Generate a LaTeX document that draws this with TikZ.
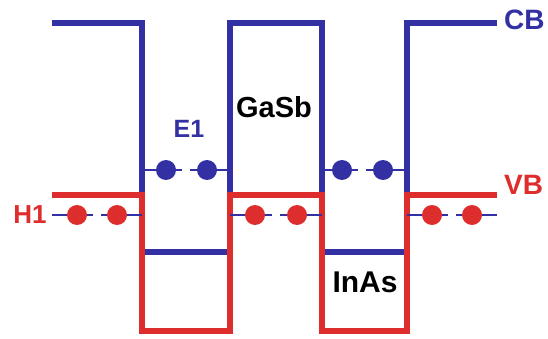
\documentclass[tikz,border=0pt]{standalone}
\usepackage{fontspec}
\setmainfont{Liberation Sans}
\definecolor{cbblue}{RGB}{50,48,162}
\definecolor{vbred}{RGB}{222,45,45}
\begin{document}
\begin{tikzpicture}[x=1pt,y=-1pt,
  band/.style={line width=6.5pt},
  lvl/.style={line width=1.6pt,cbblue},
  edot/.style={circle,fill=cbblue,minimum size=20pt,inner sep=0pt},
  hdot/.style={circle,fill=vbred,minimum size=20pt,inner sep=0pt},
  lab/.style={inner sep=0pt}]
\useasboundingbox (0,0) rectangle (548,339);
% conduction band
\draw[band,cbblue] (52,23) -- (142,23) -- (142,195);
\draw[band,cbblue] (230,195) -- (230,23) -- (322,23) -- (322,195);
\draw[band,cbblue] (407,195) -- (407,23) -- (497,23);
\draw[band,cbblue] (142,252) -- (230,252);
\draw[band,cbblue] (322,252) -- (407,252);
% valence band
\draw[band,vbred] (52,195) -- (142,195) -- (142,331) -- (230,331) -- (230,195)
  -- (322,195) -- (322,331) -- (407,331) -- (407,195) -- (497,195);
% E1 levels
\coordinate (ea0) at (142,170); \coordinate (ea1) at (182,170);
\coordinate (ea2) at (190,170); \coordinate (ea3) at (230,170);
\draw[lvl] (ea0) -- (ea1); \draw[lvl] (ea2) -- (ea3);
\node[edot] (ea) at (166,170) {}; \node[edot] (eb) at (207,170) {};
\coordinate (eb0) at (322,170); \coordinate (eb1) at (358,170);
\coordinate (eb2) at (366,170); \coordinate (eb3) at (407,170);
\draw[lvl] (eb0) -- (eb1); \draw[lvl] (eb2) -- (eb3);
\node[edot] (ec) at (342,170) {}; \node[edot] (ed) at (383,170) {};
% H1 levels
\coordinate (ha0) at (52,215); \coordinate (ha1) at (93,215);
\coordinate (ha2) at (101,215); \coordinate (ha3) at (142,215);
\draw[lvl] (ha0) -- (ha1); \draw[lvl] (ha2) -- (ha3);
\node[hdot] (ha) at (77,215) {}; \node[hdot] (hb) at (117,215) {};
\coordinate (hb0) at (230,215); \coordinate (hb1) at (272,215);
\coordinate (hb2) at (280,215); \coordinate (hb3) at (322,215);
\draw[lvl] (hb0) -- (hb1); \draw[lvl] (hb2) -- (hb3);
\node[hdot] (hc) at (255,215) {}; \node[hdot] (hd) at (297,215) {};
\coordinate (hc0) at (407,215); \coordinate (hc1) at (448,215);
\coordinate (hc2) at (456,215); \coordinate (hc3) at (497,215);
\draw[lvl] (hc0) -- (hc1); \draw[lvl] (hc2) -- (hc3);
\node[hdot] (he) at (432,215) {}; \node[hdot] (hf) at (472,215) {};
% labels
\node[lab,text=cbblue,font=\bfseries\fontsize{25}{25}\selectfont] (e1) at (189,129) {E1};
\node[lab,text=black,font=\bfseries\fontsize{29}{29}\selectfont] (gasb) at (274,107) {GaSb};
\node[lab,text=black,font=\bfseries\fontsize{30}{30}\selectfont] (inas) at (365,282) {InAs};
\node[lab,text=vbred,font=\bfseries\fontsize{26}{26}\selectfont] (h1) at (30,215) {H1};
\node[lab,text=cbblue,anchor=west,font=\bfseries\fontsize{28}{28}\selectfont] (cb) at (504,20) {CB};
\node[lab,text=vbred,anchor=west,font=\bfseries\fontsize{28}{28}\selectfont] (vb) at (504,185) {VB};
\end{tikzpicture}
\end{document}
